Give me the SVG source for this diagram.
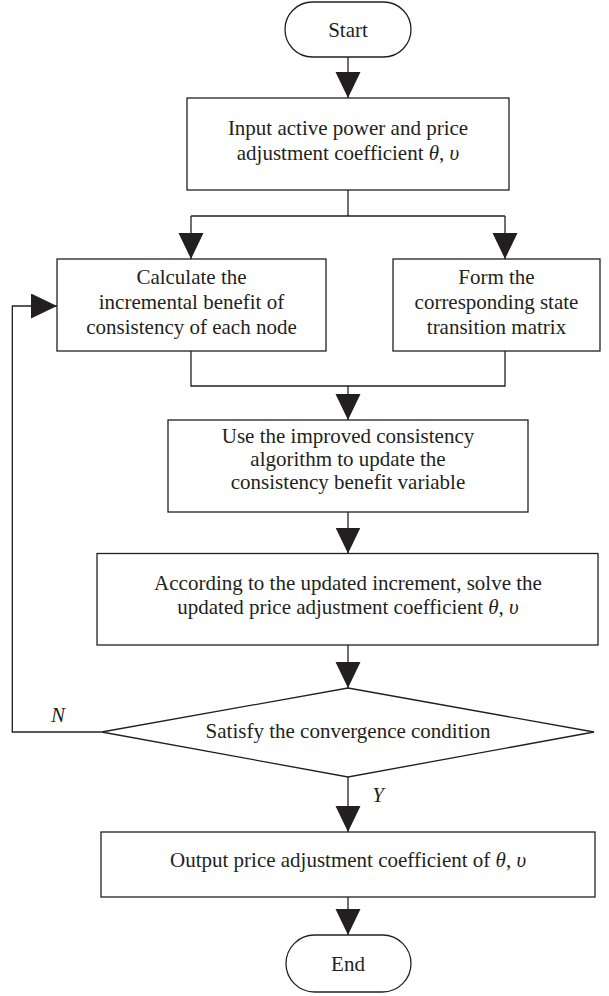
<svg xmlns="http://www.w3.org/2000/svg" width="609" height="996" viewBox="0 0 609 996">
<style>
.box{fill:#fff;stroke:#231f20;stroke-width:1.3}
.ln{fill:none;stroke:#231f20;stroke-width:1.3}
.t{font-family:"Liberation Serif","Times New Roman",serif;font-size:21px;fill:#231f20;text-anchor:middle}
.i{font-style:italic}
</style>
<defs>
<marker id="ah" markerUnits="userSpaceOnUse" markerWidth="26" markerHeight="26" refX="26" refY="12.5" orient="auto">
<path d="M0,0 L26,12.5 L0,25 Z" fill="#231f20"/>
</marker>
</defs>
<rect width="609" height="996" fill="#fff"/>
<g id="connectors">
<line class="ln" x1="348" y1="57" x2="348" y2="98" marker-end="url(#ah)"/>
<polyline class="ln" points="348,190 348,216"/>
<polyline class="ln" points="191,216 505,216"/>
<line class="ln" x1="191" y1="216" x2="191" y2="259" marker-end="url(#ah)"/>
<line class="ln" x1="505" y1="216" x2="505" y2="259" marker-end="url(#ah)"/>
<polyline class="ln" points="191,351 191,386 505,386 505,351"/>
<line class="ln" x1="348" y1="386" x2="348" y2="420" marker-end="url(#ah)"/>
<line class="ln" x1="348" y1="512" x2="348" y2="553.5" marker-end="url(#ah)"/>
<line class="ln" x1="348" y1="645" x2="348" y2="688" marker-end="url(#ah)"/>
<line class="ln" x1="348" y1="777" x2="348" y2="832" marker-end="url(#ah)"/>
<line class="ln" x1="348" y1="897" x2="348" y2="935" marker-end="url(#ah)"/>
<polyline class="ln" points="101.7,732 12.3,732 12.3,306 57,306" marker-end="url(#ah)"/>
<text class="t i" x="58" y="722">N</text>
<text class="t i" x="378" y="802">Y</text>
</g>
<g id="start">
<rect class="box" x="285" y="2" width="126" height="55" rx="27.5"/>
<text class="t" x="348" y="36.5">Start</text>
</g>
<g id="input">
<rect class="box" x="187" y="98" width="322" height="92"/>
<text class="t" x="348" y="135">Input active power and price</text>
<text class="t" x="348" y="160">adjustment coefficient <tspan class="i">θ</tspan>, <tspan class="i">υ</tspan></text>
</g>
<g id="calc">
<rect class="box" x="57" y="259" width="269" height="92"/>
<text class="t" x="191.5" y="284">Calculate the</text>
<text class="t" x="191.5" y="309">incremental benefit of</text>
<text class="t" x="191.5" y="334">consistency of each node</text>
</g>
<g id="form">
<rect class="box" x="393" y="259" width="207" height="92"/>
<text class="t" x="496.5" y="284">Form the</text>
<text class="t" x="496.5" y="309">corresponding state</text>
<text class="t" x="496.5" y="334">transition matrix</text>
</g>
<g id="update">
<rect class="box" x="168" y="420" width="360" height="92"/>
<text class="t" x="348" y="443">Use the improved consistency</text>
<text class="t" x="348" y="466">algorithm to update the</text>
<text class="t" x="348" y="489">consistency benefit variable</text>
</g>
<g id="solve">
<rect class="box" x="97" y="553.5" width="501" height="91.5"/>
<text class="t" x="348" y="590">According to the updated increment, solve the</text>
<text class="t" x="348" y="614">updated price adjustment coefficient <tspan class="i">θ</tspan>, <tspan class="i">υ</tspan></text>
</g>
<g id="decision">
<polygon class="box" points="348,688 594,732 348,777 101.7,732"/>
<text class="t" x="348" y="738">Satisfy the convergence condition</text>
</g>
<g id="output">
<rect class="box" x="101" y="832" width="494" height="65"/>
<text class="t" x="348" y="867">Output price adjustment coefficient of <tspan class="i">θ</tspan>, <tspan class="i">υ</tspan></text>
</g>
<g id="end">
<rect class="box" x="286" y="935" width="125" height="57" rx="28.5"/>
<text class="t" x="348" y="971">End</text>
</g>
</svg>
